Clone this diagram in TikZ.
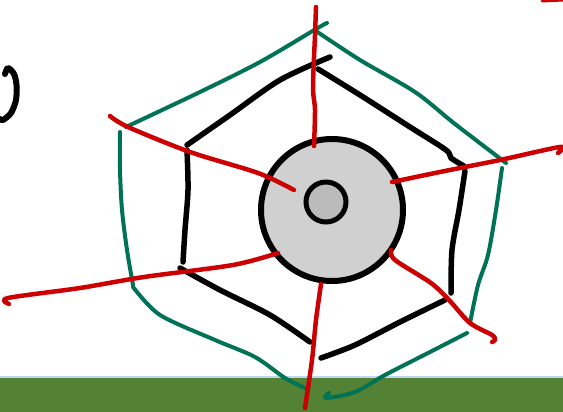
\documentclass[tikz,border=0pt]{standalone}
\definecolor{groundgreen}{RGB}{84,130,53}
\definecolor{skyline}{RGB}{189,215,238}
\definecolor{webgreen}{RGB}{0,114,86}
\definecolor{webred}{RGB}{204,0,0}
\definecolor{disk}{RGB}{208,208,208}
\definecolor{hub}{RGB}{187,187,187}
\begin{document}
\begin{tikzpicture}[x=1pt,y=-1pt,
  blk/.style={line width=5.5pt,line cap=round,line join=round,black},
  grn/.style={line width=4pt,line cap=round,line join=round,webgreen},
  rd/.style={line width=4.5pt,line cap=round,line join=round,webred}]
\useasboundingbox (0,0) rectangle (563,412);
% ground
\fill[groundgreen] (0,378) rectangle (563,412);
\fill[skyline] (0,375.5) rectangle (563,378);
% left stroke
\draw[blk,line width=6pt] plot[smooth] coordinates {(5,74) (8,68) (14,74) (16.5,85) (16,100) (11,113) (3,120) (0,119)};
% green hexagon
\draw[grn] plot[smooth] coordinates {(327,23) (316,29) (260,62) (200,92) (126,127)};
\draw[grn] plot[smooth] coordinates {(316,31) (360,60) (415,92) (455,124) (506,163)};
\draw[grn] plot[smooth] coordinates {(502,168) (496,210) (488,255) (478,285) (470,323)};
\draw[grn] plot[smooth] coordinates {(467,333) (430,352) (385,375) (355,392) (326,398) (329,393)};
\draw[grn] plot[smooth] coordinates {(133,287) (160,315) (215,340) (255,357) (285,378) (305,388)};
\draw[grn] plot[smooth] coordinates {(120,132) (120,170) (122,210) (127,250) (133,285)};
% black hexagon
\draw[blk] plot[smooth] coordinates {(187,145) (230,115) (280,80) (330,57)};
\draw[blk] plot[smooth] coordinates {(318,69) (360,95) (410,127) (446,150) (451,158) (464,166)};
\draw[blk] plot[smooth] coordinates {(465,171) (459,210) (452,250) (451,293)};
\draw[blk] plot[smooth] coordinates {(445,300) (400,322) (355,345) (321,358)};
\draw[blk] plot[smooth] coordinates {(180,268) (220,290) (270,315) (310,342)};
\draw[blk] plot[smooth] coordinates {(187,150) (188,190) (185,230) (183,262)};
% hub
\draw[line width=6pt,fill=disk] (332,210) circle[radius=71];
\draw[line width=5pt,fill=hub] (326,202) circle[radius=20];
% red threads
\draw[rd] plot[smooth] coordinates {(316,7) (315,35) (313,87) (315,110) (314,146)};
\draw[rd] plot[smooth] coordinates {(110,116) (128,127) (190,152) (258,173) (294,190)};
\draw[rd] plot[smooth] coordinates {(392,182) (440,172) (500,160) (560,147) (558,153)};
\draw[rd] plot[smooth] coordinates {(9,304) (8,298) (80,288) (144,277) (233,265) (278,253)};
\draw[rd] plot[smooth] coordinates {(391,250) (395,260) (431,283) (449,300) (470,323) (492,335) (495,340) (492,342)};
\draw[rd] plot[smooth] coordinates {(321,284) (316,320) (312,360) (305,408)};
\draw[rd,line width=3pt] (542,1) -- (563,0);
\end{tikzpicture}
\end{document}
